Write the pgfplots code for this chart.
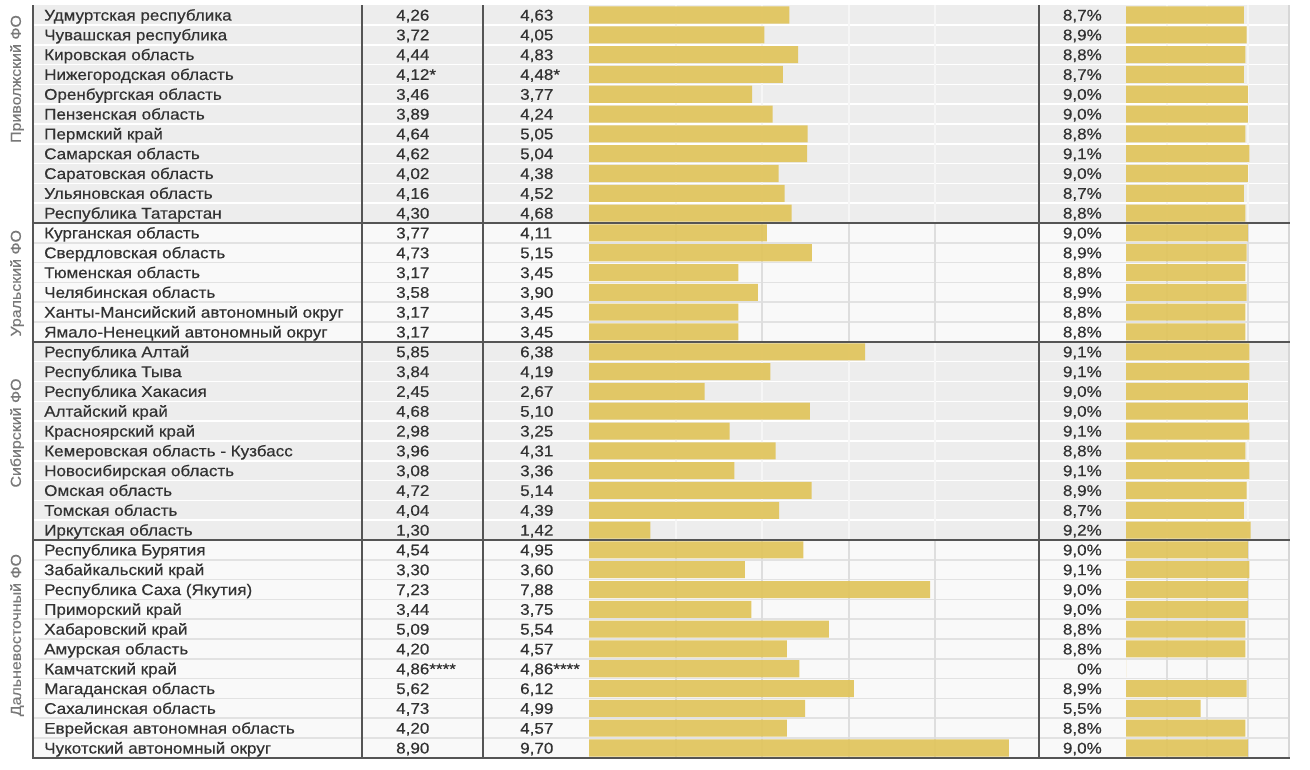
\documentclass[border=0pt]{standalone}
\usepackage{fontspec}
\setmainfont{Liberation Sans}[FakeStretch=1.1, FakeBold=0.4]
\usepackage{pgfplots}
\usepackage{pgfplotstable}
\pgfplotsset{compat=1.18}
\definecolor{bargold}{RGB}{225,197,94}
\definecolor{rowgrey}{RGB}{237,237,237}
\definecolor{rowwhite}{RGB}{249,249,249}
\definecolor{sepgrey}{RGB}{226,226,226}
\definecolor{gridonwhite}{RGB}{222,222,222}
\definecolor{gridongrey}{RGB}{246,246,246}
\definecolor{borderlight}{RGB}{215,215,215}
\definecolor{darkline}{RGB}{85,85,85}
\definecolor{txt}{RGB}{50,50,50}
\definecolor{lab}{RGB}{120,120,120}
\newcommand\tblfont{\fontsize{15.5}{18}\selectfont}
\newcommand\grpfont{\fontsize{14.5}{17}\selectfont}
\pgfplotsset{
  tblframe/.style={scale only axis, height=752.8pt, anchor=south west,
    ymin=-0.5, ymax=37.5, y dir=reverse, hide axis, clip=false},
  tblfull/.style={tblframe, width=1257pt, at={(33pt,11.1pt)}, xmin=33, xmax=1290},
  txtplot/.style={draw=none, mark=none, point meta=explicit symbolic,
    nodes near coords={\pgfplotspointmeta},
    nodes near coords style={anchor=base west, inner sep=0pt, yshift=-5.5pt, font=\tblfont, text=txt}},
}
\pgfplotstableread[col sep=semicolon, row sep=\\]{
idx;name;a;b;bv;p;pv\\
0;Удмуртская республика;4,26;4,63;4.63;8,7;8.7\\
1;Чувашская республика;3,72;4,05;4.05;8,9;8.9\\
2;Кировская область;4,44;4,83;4.83;8,8;8.8\\
3;Нижегородская область;4,12*;4,48*;4.48;8,7;8.7\\
4;Оренбургская область;3,46;3,77;3.77;9,0;9.0\\
5;Пензенская область;3,89;4,24;4.24;9,0;9.0\\
6;Пермский край;4,64;5,05;5.05;8,8;8.8\\
7;Самарская область;4,62;5,04;5.04;9,1;9.1\\
8;Саратовская область;4,02;4,38;4.38;9,0;9.0\\
9;Ульяновская область;4,16;4,52;4.52;8,7;8.7\\
10;Республика Татарстан;4,30;4,68;4.68;8,8;8.8\\
11;Курганская область;3,77;4,11;4.11;9,0;9.0\\
12;Свердловская область;4,73;5,15;5.15;8,9;8.9\\
13;Тюменская область;3,17;3,45;3.45;8,8;8.8\\
14;Челябинская область;3,58;3,90;3.90;8,9;8.9\\
15;Ханты-Мансийский автономный округ;3,17;3,45;3.45;8,8;8.8\\
16;Ямало-Ненецкий автономный округ;3,17;3,45;3.45;8,8;8.8\\
17;Республика Алтай;5,85;6,38;6.38;9,1;9.1\\
18;Республика Тыва;3,84;4,19;4.19;9,1;9.1\\
19;Республика Хакасия;2,45;2,67;2.67;9,0;9.0\\
20;Алтайский край;4,68;5,10;5.10;9,0;9.0\\
21;Красноярский край;2,98;3,25;3.25;9,1;9.1\\
22;Кемеровская область - Кузбасс;3,96;4,31;4.31;8,8;8.8\\
23;Новосибирская область;3,08;3,36;3.36;9,1;9.1\\
24;Омская область;4,72;5,14;5.14;8,9;8.9\\
25;Томская область;4,04;4,39;4.39;8,7;8.7\\
26;Иркутская область;1,30;1,42;1.42;9,2;9.2\\
27;Республика Бурятия;4,54;4,95;4.95;9,0;9.0\\
28;Забайкальский край;3,30;3,60;3.60;9,1;9.1\\
29;Республика Саха (Якутия);7,23;7,88;7.88;9,0;9.0\\
30;Приморский край;3,44;3,75;3.75;9,0;9.0\\
31;Хабаровский край;5,09;5,54;5.54;8,8;8.8\\
32;Амурская область;4,20;4,57;4.57;8,8;8.8\\
33;Камчатский край;4,86****;4,86****;4.86;0;0\\
34;Магаданская область;5,62;6,12;6.12;8,9;8.9\\
35;Сахалинская область;4,73;4,99;4.99;5,5;5.5\\
36;Еврейская автономная область;4,20;4,57;4.57;8,8;8.8\\
37;Чукотский автономный округ;8,90;9,70;9.70;9,0;9.0\\
}\regions
\begin{document}
\begin{tikzpicture}[x=1pt,y=1pt]
\useasboundingbox[fill=white] (0,0) rectangle (1310,769);
\begin{axis}[tblfull]
  \fill[rowgrey]  (axis cs:33,-0.5) rectangle (axis cs:1290,10.5);
  \fill[rowwhite] (axis cs:33,10.5) rectangle (axis cs:1290,16.5);
  \fill[rowgrey]  (axis cs:33,16.5) rectangle (axis cs:1290,26.5);
  \fill[rowwhite] (axis cs:33,26.5) rectangle (axis cs:1290,37.5);
  \pgfplotsinvokeforeach{0.5,1.5,2.5,3.5,4.5,5.5,6.5,7.5,8.5,9.5,17.5,18.5,19.5,20.5,21.5,22.5,23.5,24.5,25.5}{
    \draw[white, line width=1.6pt] (axis cs:33,#1) -- (axis cs:1290,#1);}
  \pgfplotsinvokeforeach{11.5,12.5,13.5,14.5,15.5,27.5,28.5,29.5,30.5,31.5,32.5,33.5,34.5,35.5,36.5}{
    \draw[sepgrey, line width=1.6pt] (axis cs:33,#1) -- (axis cs:1290,#1);}
\end{axis}
\begin{axis}[tblframe, width=449pt, at={(589pt,11.1pt)}, xmin=0, xmax=10.37]
  \pgfplotsinvokeforeach{2,4,6,8}{
    \draw[gridongrey, line width=1.8pt] (axis cs:#1,-0.5) -- (axis cs:#1,10.5);
    \draw[gridonwhite, line width=1.8pt] (axis cs:#1,10.5) -- (axis cs:#1,16.5);
    \draw[gridongrey, line width=1.8pt] (axis cs:#1,16.5) -- (axis cs:#1,26.5);
    \draw[gridonwhite, line width=1.8pt] (axis cs:#1,26.5) -- (axis cs:#1,37.5);}
  \addplot[xbar, bar width=0.86, fill=bargold, draw=none, fill opacity=0.94] table[x=bv, y=idx] {\regions};
\end{axis}
\begin{axis}[tblframe, width=162.6pt, at={(1126pt,11.1pt)}, xmin=0, xmax=12]
  \pgfplotsinvokeforeach{3,6,9}{
    \draw[gridongrey, line width=1.8pt] (axis cs:#1,-0.5) -- (axis cs:#1,10.5);
    \draw[gridonwhite, line width=1.8pt] (axis cs:#1,10.5) -- (axis cs:#1,16.5);
    \draw[gridongrey, line width=1.8pt] (axis cs:#1,16.5) -- (axis cs:#1,26.5);
    \draw[gridonwhite, line width=1.8pt] (axis cs:#1,26.5) -- (axis cs:#1,37.5);}
  \addplot[xbar, bar width=0.86, fill=bargold, draw=none, fill opacity=0.94] table[x=pv, y=idx] {\regions};
\end{axis}
\begin{axis}[tblfull]
  \addplot[txtplot] table[x expr=44, y=idx, meta=name] {\regions};
  \addplot[txtplot] table[x expr=396, y=idx, meta=a] {\regions};
  \addplot[txtplot] table[x expr=520, y=idx, meta=b] {\regions};
  \addplot[txtplot, nodes near coords={\pgfplotspointmeta\%}, nodes near coords style={anchor=base east}] table[x expr=1102, y=idx, meta=p] {\regions};
  \draw[borderlight, line width=1.5pt] (axis cs:1289,-0.5) -- (axis cs:1289,37.5);
  \pgfplotsinvokeforeach{33,361.5,483,1038.5}{
    \draw[darkline, line width=2pt] (axis cs:#1,-0.5) -- (axis cs:#1,37.5);}
  \pgfplotsinvokeforeach{10.5,16.5,26.5,37.5}{
    \draw[darkline, line width=2pt] (axis cs:32,#1) -- (axis cs:1290,#1);}
  \node[rotate=90, font=\grpfont, text=lab] at (axis cs:17,3.23) {Приволжский ФО};
  \node[rotate=90, font=\grpfont, text=lab] at (axis cs:17,13.54) {Уральский ФО};
  \node[rotate=90, font=\grpfont, text=lab] at (axis cs:17,21.1) {Сибирский ФО};
  \node[rotate=90, font=\grpfont, text=lab] at (axis cs:17,31.3) {Дальневосточный ФО};
\end{axis}
\end{tikzpicture}
\end{document}
